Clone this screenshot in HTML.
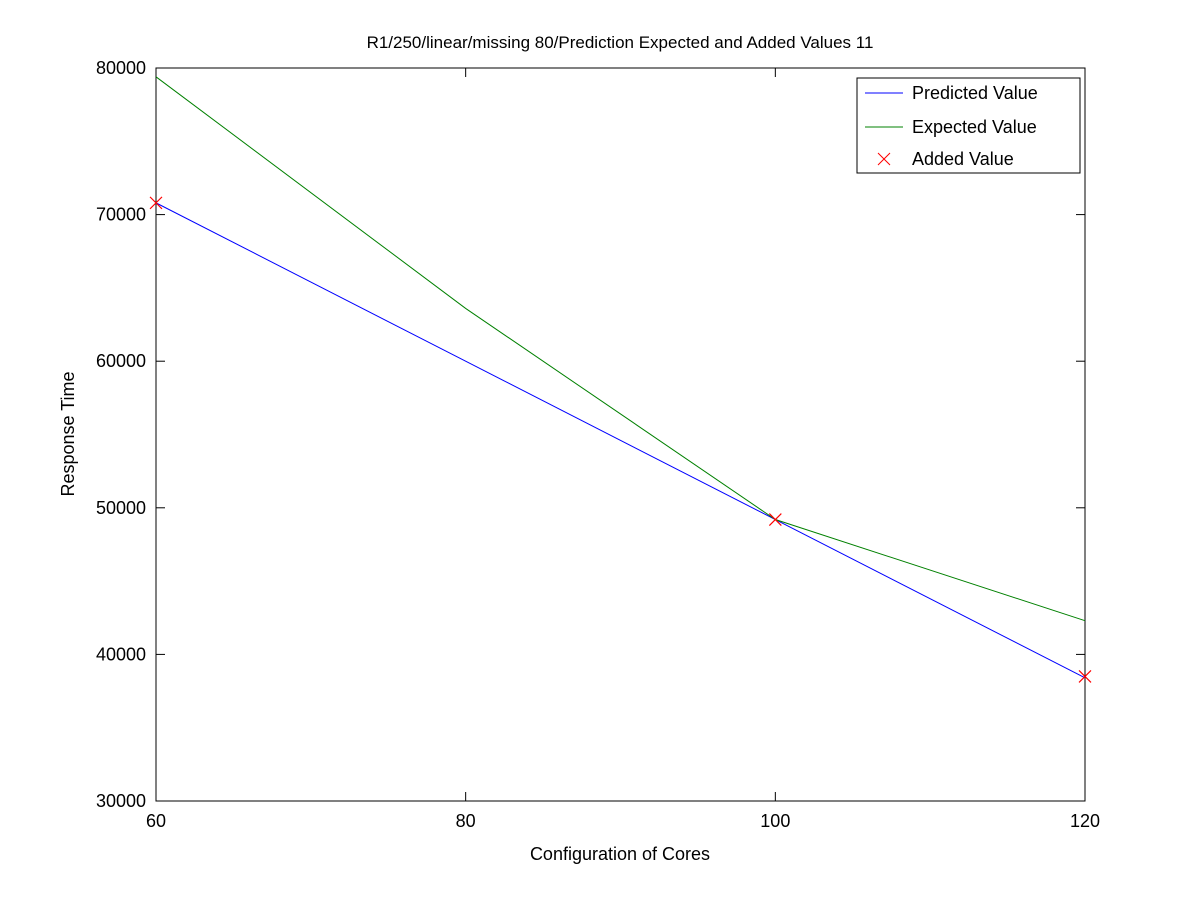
<!DOCTYPE html>
<html><head><meta charset="utf-8"><style>
body{margin:0;background:#fff;font-family:"Liberation Sans",sans-serif}
svg text{font-family:"Liberation Sans",sans-serif}
</style></head><body>
<svg id="chart" width="1200" height="902">
<rect width="1200" height="902" fill="#fff"/>
<text x="620" y="48" font-size="17" text-anchor="middle">R1/250/linear/missing 80/Prediction Expected and Added Values 11</text>
<rect x="156" y="68" width="929" height="733" fill="none" stroke="#000"/>
<g id="axes"></g>
<g id="series"></g>
<text x="620" y="860" font-size="18" text-anchor="middle">Configuration of Cores</text>
<text transform="translate(74,434) rotate(-90)" font-size="18" text-anchor="middle">Response Time</text>
<g>
<rect x="857" y="78" width="223" height="95" fill="#fff" stroke="#000"/>
<g><line x1="865" y1="93" x2="903" y2="93" stroke="#0000ff"/><text x="912" y="99" font-size="18">Predicted Value</text></g>
<g><line x1="865" y1="127" x2="903" y2="127" stroke="#008000"/><text x="912" y="133" font-size="18">Expected Value</text></g>
<g><path d="M878,153 l12,12 M890,153 l-12,12" stroke="#ff0000"/><text x="912" y="165" font-size="18">Added Value</text></g>
</g>
</svg>
<script>
const categories=[60,80,100,120];
const predicted=[70800,60000,49200,38400];
const expected=[79400,63600,49200,42300];
const addedX=[60,100,120];
const addedY=[70800,49200,38500];
const xTicks=[60,80,100,120];
const yTicks=[30000,40000,50000,60000,70000,80000];
const NS="http://www.w3.org/2000/svg";
const X=v=>156+(v-60)/60*929;
const Y=v=>801-(v-30000)/50000*733;
function el(t,a,p){const e=document.createElementNS(NS,t);for(const k in a)e.setAttribute(k,a[k]);p.appendChild(e);return e;}
const ax=document.getElementById('axes'),se=document.getElementById('series');
xTicks.forEach(t=>{const x=X(t);
el('line',{x1:x,x2:x,y1:801,y2:792,stroke:'#000'},ax);el('line',{x1:x,x2:x,y1:68,y2:77,stroke:'#000'},ax);
const tx=el('text',{x:x,y:827,'font-size':18,'text-anchor':'middle'},ax);tx.textContent=t;

});
yTicks.forEach(t=>{const y=Y(t);
el('line',{x1:156,x2:165,y1:y,y2:y,stroke:'#000'},ax);el('line',{x1:1085,x2:1076,y1:y,y2:y,stroke:'#000'},ax);
const tx=el('text',{x:146,y:y+6,'font-size':18,'text-anchor':'end'},ax);tx.textContent=t;

});
const pl=el('polyline',{points:categories.map((c,i)=>X(c)+','+Y(predicted[i])).join(' '),fill:'none',stroke:'#0000ff'},se);


const el2=el('polyline',{points:categories.map((c,i)=>X(c)+','+Y(expected[i])).join(' '),fill:'none',stroke:'#008000'},se);


addedX.forEach((c,i)=>{const x=X(c),y=Y(addedY[i]);
const m=el('path',{d:`M${x-6},${y-6} l12,12 M${x+6},${y-6} l-12,12`,stroke:'#ff0000','stroke-width':1.2},se);

});
</script>
</body></html>
